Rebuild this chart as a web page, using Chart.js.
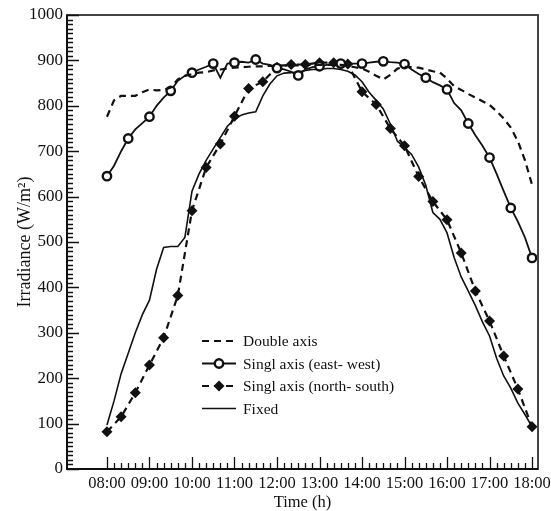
<!DOCTYPE html>
<html>
<head>
<meta charset="utf-8">
<script src="https://cdn.jsdelivr.net/npm/chart.js@4/dist/chart.umd.min.js"></script>
<style>
  html, body { margin: 0; padding: 0; background: #fff; }
</style>
</head>
<body>
<canvas id="myChart" width="551" height="511"></canvas>
<script>
// x tick labels (one per hour)
const hourLabels = ["08:00", "09:00", "10:00", "11:00", "12:00", "13:00",
  "14:00", "15:00", "16:00", "17:00", "18:00"];

// sample times in hours: every 10 min and every 20 min, 08:00 - 18:00
const times10 = [];
for (let i = 0; i <= 60; i++) times10.push(8 + i / 6);
const times20 = [];
for (let i = 0; i <= 30; i++) times20.push(8 + i / 3);

// W/m2
const doubleAxis = [
  776, 812, 822, 822, 822, 830,
  836, 834, 835, 840, 858, 866,
  870, 873, 874, 878, 880, 882,
  884, 885, 886, 887, 887, 888,
  888, 889, 889, 889, 890, 890,
  890, 890, 890, 890, 888, 885,
  882, 875, 866, 858, 868, 882,
  886, 885, 884, 880, 876, 873,
  860, 843, 835, 826, 818, 810,
  802, 788, 772, 752, 722, 680,
  626];

const eastWest = [
  645, 668, 700, 728, 748, 762,
  776, 800, 818, 833, 855, 866,
  873, 880, 886, 893, 862, 893,
  895, 897, 895, 902, 893, 890,
  883, 880, 875, 867, 880, 885,
  887, 890, 892, 893, 893, 893,
  893, 895, 897, 898, 896, 895,
  892, 880, 870, 862, 852, 845,
  836, 806, 790, 761, 735, 712,
  686, 650, 612, 575, 545, 510,
  465];

const northSouth = [
  82, 115, 168, 229, 289, 382,
  569, 664, 716, 777, 838, 853,
  885, 891, 891, 895, 895, 892,
  831, 803, 750, 712, 644, 589,
  549, 476, 392, 326, 249, 176,
  93];

const fixedPanel = [
  97, 150, 210, 255, 300, 340,
  372, 440, 488, 490, 490, 510,
  612, 650, 680, 705, 730, 755,
  770, 780, 784, 787, 822, 848,
  866, 872, 873, 874, 878, 880,
  880, 882, 882, 880, 876, 868,
  853, 830, 812, 793, 760, 722,
  708, 693, 665, 625, 565, 550,
  520, 466, 423, 392, 360, 324,
  293, 244, 205, 178, 145, 120,
  93];

const toPoints = (xs, ys) => ys.map((v, i) => ({ x: xs[i], y: v }));

const ink = "#111";
const serif = "'Liberation Serif', 'Times New Roman', serif";

const legendRows = [
  { text: "Double axis", dash: [7, 5], width: 2.2, marker: null },
  { text: "Singl axis (east- west)", dash: [], width: 1.8, marker: "circle" },
  { text: "Singl axis (north- south)", dash: [7, 5], width: 2.2, marker: "diamond" },
  { text: "Fixed", dash: [], width: 1.6, marker: null },
];

function drawMarker(ctx, type, cx, cy) {
  if (type === "circle") {
    ctx.setLineDash([]);
    ctx.lineWidth = 2.4;
    ctx.fillStyle = "#fff";
    ctx.beginPath();
    ctx.arc(cx, cy, 4.2, 0, Math.PI * 2);
    ctx.fill();
    ctx.stroke();
  } else if (type === "diamond") {
    const r = 5.5;
    ctx.fillStyle = ink;
    ctx.beginPath();
    ctx.moveTo(cx, cy - r);
    ctx.lineTo(cx + r, cy);
    ctx.lineTo(cx, cy + r);
    ctx.lineTo(cx - r, cy);
    ctx.closePath();
    ctx.fill();
  }
}

// frame, inward ticks and the legend
const framePlugin = {
  id: "frame",
  afterDraw(chart) {
    const { ctx, chartArea, scales } = chart;
    const { left, right, top, bottom } = chartArea;
    ctx.save();
    ctx.strokeStyle = "#444";
    ctx.lineWidth = 2;
    ctx.strokeRect(left, top, right - left, bottom - top);
    ctx.strokeStyle = ink;
    ctx.beginPath();
    ctx.moveTo(left, top);
    ctx.lineTo(left, bottom);
    ctx.lineTo(right, bottom);
    ctx.stroke();

    ctx.lineWidth = 1.3;
    ctx.beginPath();
    times10.forEach((t, i) => {
      const px = Math.round(scales.x.getPixelForValue(t)) + 0.5;
      const len = i % 6 === 0 ? 12 : 6;
      ctx.moveTo(px, bottom);
      ctx.lineTo(px, bottom - len);
    });
    for (let v = 0; v <= 1000; v += 10) {
      const py = Math.round(scales.y.getPixelForValue(v)) + 0.5;
      const len = v % 100 === 0 ? 12 : 6;
      ctx.moveTo(left, py);
      ctx.lineTo(left + len, py);
    }
    ctx.stroke();

    // legend
    const lx = left + 135, ly = top + 326, step = 22.5;
    ctx.font = "15.5px " + serif;
    ctx.textBaseline = "middle";
    legendRows.forEach((row, i) => {
      const y = ly + i * step;
      ctx.strokeStyle = ink;
      ctx.lineWidth = row.width;
      ctx.setLineDash(row.dash);
      ctx.beginPath();
      ctx.moveTo(lx, y);
      ctx.lineTo(lx + 34, y);
      ctx.stroke();
      drawMarker(ctx, row.marker, lx + 17, y);
      ctx.fillStyle = ink;
      ctx.fillText(row.text, lx + 41, y + 1);
    });
    ctx.restore();
  },
};

new Chart(document.getElementById("myChart"), {
  type: "line",
  data: {
    datasets: [
      {
        label: "Double axis",
        data: toPoints(times10, doubleAxis),
        borderColor: ink,
        borderWidth: 2.2,
        borderDash: [7, 5],
        pointRadius: 0,
      },
      {
        label: "Singl axis (east- west)",
        data: toPoints(times10, eastWest),
        borderColor: ink,
        borderWidth: 1.8,
        pointStyle: "circle",
        pointRadius: (c) => (c.dataIndex % 3 === 0 ? 4.2 : 0),
        pointBorderWidth: 2.4,
        pointBackgroundColor: "#fff",
        pointBorderColor: ink,
      },
      {
        label: "Singl axis (north- south)",
        data: toPoints(times20, northSouth),
        borderColor: ink,
        borderWidth: 2.2,
        borderDash: [7, 5],
        pointStyle: "rectRot",
        pointRadius: 5.5,
        pointBorderWidth: 0,
        pointBackgroundColor: ink,
      },
      {
        label: "Fixed",
        data: toPoints(times10, fixedPanel),
        borderColor: ink,
        borderWidth: 1.6,
        pointRadius: 0,
      },
    ],
  },
  options: {
    responsive: false,
    animation: false,
    layout: { padding: { top: 15, right: 13, left: 16, bottom: 0 } },
    plugins: {
      legend: { display: false },
      tooltip: { enabled: false },
    },
    scales: {
      x: {
        type: "linear",
        min: 7.06,
        max: 18.14,
        afterBuildTicks: (scale) => {
          scale.ticks = hourLabels.map((l, i) => ({ value: 8 + i }));
        },
        afterFit: (scale) => {
          scale.height = 42;
          scale.paddingLeft = 0;
          scale.paddingRight = 0;
        },
        grid: { display: false, drawTicks: false },
        border: { display: false },
        ticks: {
          callback: (v, i) => hourLabels[i],
          autoSkip: false,
          maxRotation: 0,
          padding: 5,
          color: ink,
          font: { family: serif, size: 16.5 },
        },
        title: {
          display: true,
          text: "Time (h)",
          color: ink,
          padding: { top: 0, bottom: 0 },
          font: { family: serif, size: 16.5, lineHeight: 1 },
        },
      },
      y: {
        min: 0,
        max: 1000,
        afterFit: (scale) => {
          scale.width = 51;
          scale.paddingTop = 0;
          scale.paddingBottom = 0;
        },
        grid: { display: false, drawTicks: false },
        border: { display: false },
        ticks: {
          stepSize: 100,
          padding: 4,
          callback: (v) => String(v),
          color: ink,
          font: { family: serif, size: 17 },
        },
        title: {
          display: true,
          text: "Irradiance (W/m²)",
          color: ink,
          padding: { top: 0, bottom: 0 },
          font: { family: serif, size: 18, lineHeight: 1 },
        },
      },
    },
  },
  plugins: [framePlugin],
});
</script>
</body>
</html>
